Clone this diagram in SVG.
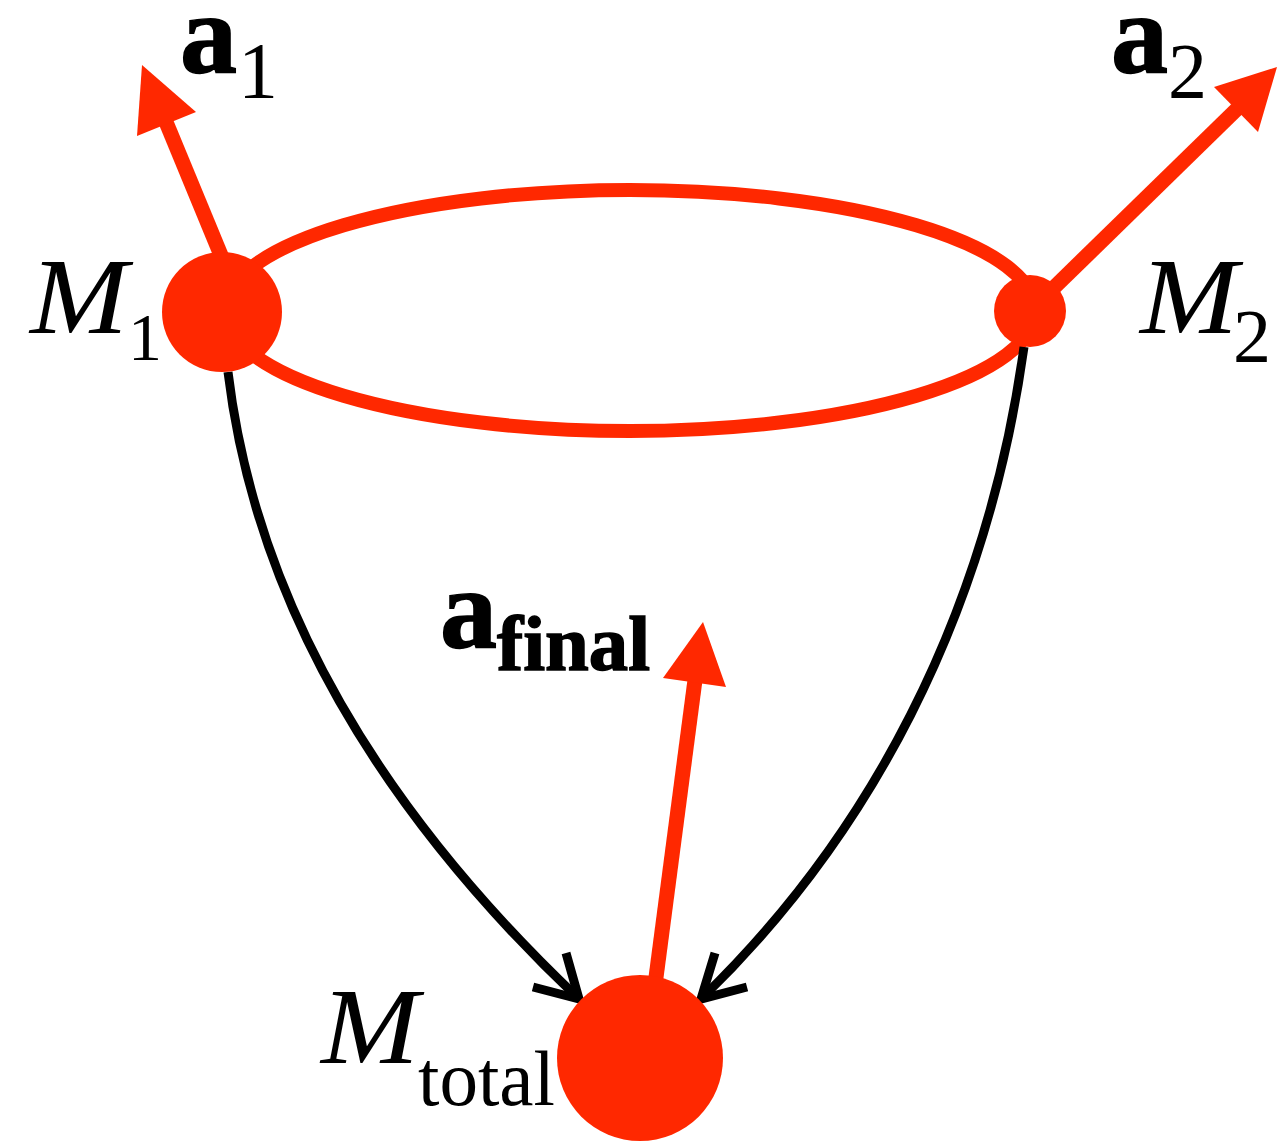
<svg xmlns="http://www.w3.org/2000/svg" width="1277" height="1141" viewBox="0 0 1277 1141">
<style>
.red-line{fill:none;stroke:#ff2800;stroke-width:15}
.blk{fill:none;stroke:#000;stroke-width:9}
.head{fill:#ff2800}
.mass{fill:#ff2800}
.vec{font-family:"Liberation Serif",serif;font-weight:bold;fill:#000;stroke:#000;stroke-width:1.5}
.sym{font-family:"Liberation Serif",serif;font-style:italic;fill:#000}
.sub{font-family:"Liberation Serif",serif;fill:#000}
</style>
<rect width="1277" height="1141" fill="#fff"/>
<g id="orbit">
<ellipse cx="630" cy="310.5" rx="405" ry="120.5" fill="none" stroke="#ff2800" stroke-width="14"/>
</g>
<g id="connectors">
<path class="blk" d="M228,372 C256,604 383,813 578,998"/>
<polyline class="blk" points="566,953 579,999 533,987" stroke-linejoin="miter"/>
<path class="blk" d="M1024,347 C986,620 867,838 702,998"/>
<polyline class="blk" points="715,953 701,999 747,987" stroke-linejoin="miter"/>
</g>
<g id="vec-a1">
<line class="red-line" x1="244" y1="311" x2="166" y2="122"/>
<polygon class="head" points="142,65 137,136 196,112"/>
</g>
<g id="vec-a2">
<line class="red-line" x1="1030" y1="311" x2="1238" y2="108"/>
<polygon class="head" points="1277,67 1214,87 1258,132"/>
</g>
<g id="vec-afinal">
<line class="red-line" x1="655" y1="985" x2="695" y2="680"/>
<polygon class="head" points="703,622 663,678 726,687"/>
</g>
<g id="node-M1">
<circle class="mass" cx="222" cy="312" r="60"/>
<text class="sym" x="30" y="333" font-size="108" textLength="98" lengthAdjust="spacingAndGlyphs">M</text>
<text class="sub" x="128" y="360" font-size="68">1</text>
</g>
<g id="node-M2">
<circle class="mass" cx="1030" cy="311" r="36"/>
<text class="sym" x="1140" y="333" font-size="108" textLength="98" lengthAdjust="spacingAndGlyphs">M</text>
<text class="sub" x="1233" y="362" font-size="76">2</text>
</g>
<g id="node-Mtotal">
<circle class="mass" cx="640" cy="1058" r="83"/>
<text class="sym" x="321" y="1063" font-size="108" textLength="98" lengthAdjust="spacingAndGlyphs">M</text>
<text class="sub" x="418" y="1105" font-size="78" textLength="137" lengthAdjust="spacingAndGlyphs">total</text>
</g>
<g id="label-a1">
<text class="vec" x="180" y="72" font-size="114">a</text>
<text class="sub" x="238" y="98" font-size="80">1</text>
</g>
<g id="label-a2">
<text class="vec" x="1111" y="72" font-size="114">a</text>
<text class="sub" x="1168" y="97" font-size="78">2</text>
</g>
<g id="label-afinal">
<text class="vec" x="440" y="647" font-size="114">a</text>
<text class="vec" x="497" y="670" font-size="78" textLength="153" lengthAdjust="spacingAndGlyphs">final</text>
</g>
</svg>
